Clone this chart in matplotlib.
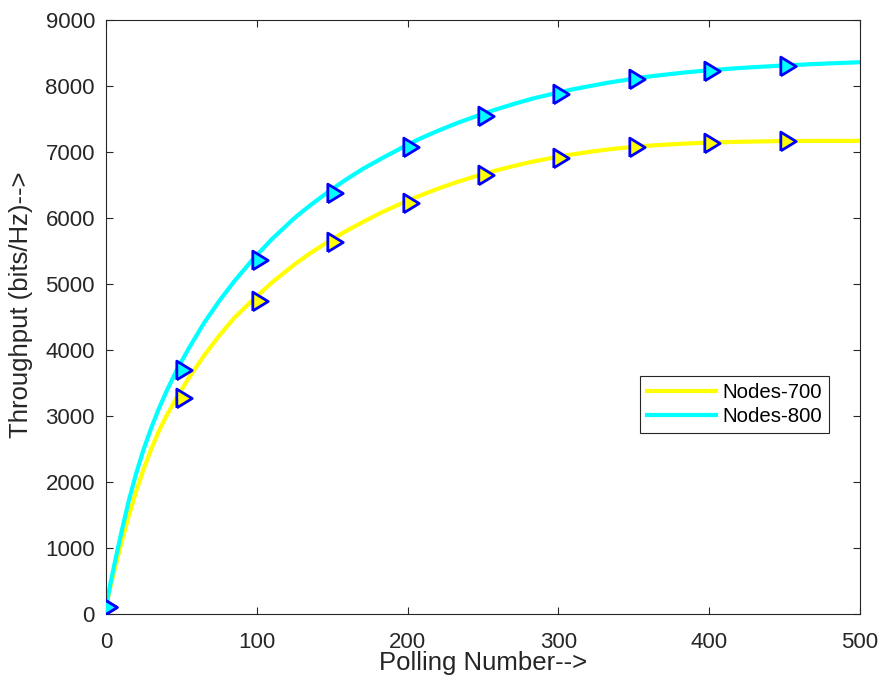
import matplotlib
matplotlib.use("Agg")
import matplotlib.pyplot as plt

plt.rcParams['font.family'] = ['Liberation Sans', 'DejaVu Sans']

# curve points
line_x = [0, 3, 6, 10, 15, 20, 25, 30, 35, 40, 47, 55, 65, 75, 85, 97, 110, 125,
          135, 147, 158, 170, 183, 197, 208, 220, 233, 247, 258, 270, 283, 297,
          308, 320, 333, 347, 358, 370, 383, 397, 420, 447, 470, 500]
nodes700 = [110, 420, 700, 1060, 1480, 1860, 2200, 2500, 2770, 3000, 3285, 3580,
            3915, 4215, 4485, 4752, 5022, 5297, 5460, 5638, 5787, 5935, 6088, 6232,
            6337, 6443, 6547, 6646, 6716, 6786, 6854, 6916, 6959, 7000, 7039, 7071,
            7092, 7110, 7126, 7140, 7154, 7165, 7168, 7168]
nodes800 = [110, 470, 800, 1220, 1710, 2130, 2500, 2820, 3110, 3370, 3700, 4030,
            4410, 4740, 5040, 5365, 5680, 6000, 6185, 6390, 6565, 6740, 6905, 7075,
            7200, 7320, 7440, 7555, 7640, 7725, 7810, 7885, 7943, 7995, 8050, 8100,
            8138, 8170, 8203, 8232, 8272, 8308, 8333, 8360]

# triangle markers (drawn a little right of the curve in the original)
mark_x = [2, 52, 102, 152, 202, 252, 302, 352, 402, 452]
mark700 = [103, 3277, 4747, 5636, 6232, 6647, 6914, 7071, 7141, 7167]
mark800 = [103, 3697, 5364, 6379, 7071, 7550, 7879, 8101, 8232, 8308]

labels = ["Nodes-700", "Nodes-800"]
x_ticks = [0, 100, 200, 300, 400, 500]
y_ticks = [0, 1000, 2000, 3000, 4000, 5000, 6000, 7000, 8000, 9000]

axis_gray = '#262626'
tri = [(-0.82, -1), (0.82, 0), (-0.82, 1), (-0.82, -1)]

fig = plt.figure(figsize=(8.8, 6.89), dpi=100)
ax = fig.add_axes([0.1205, 0.1089, 0.8568, 0.8621])

ax.plot(line_x, nodes700, color='yellow', linewidth=3, label=labels[0], zorder=2)
ax.plot(line_x, nodes800, color='cyan', linewidth=3, label=labels[1], zorder=2)
ax.plot(mark_x, mark700, linestyle='none', marker=tri, markersize=13.5,
        markerfacecolor='yellow', markeredgecolor='blue', markeredgewidth=2, zorder=3)
ax.plot(mark_x, mark800, linestyle='none', marker=tri, markersize=13.5,
        markerfacecolor='cyan', markeredgecolor='blue', markeredgewidth=2, zorder=3)

ax.set_xlim(0, 500)
ax.set_ylim(0, 9000)
ax.set_xticks(x_ticks)
ax.set_yticks(y_ticks)

for sp in ax.spines.values():
    sp.set_color(axis_gray)
    sp.set_linewidth(0.8)
ax.tick_params(direction='in', length=5, width=0.8, colors=axis_gray,
               labelsize=16, top=True, right=True)
ax.tick_params(axis='x', pad=13)
ax.tick_params(axis='y', pad=8)

ax.set_xlabel("Polling Number-->", fontsize=18.5, color=axis_gray)
ax.set_ylabel("Throughput (bits/Hz)-->", fontsize=18.5, color=axis_gray)
ax.xaxis.set_label_coords(0.5, -0.063)
ax.yaxis.set_label_coords(-0.097, 0.52)

leg = ax.legend(loc='lower right', bbox_to_anchor=(0.9585, 0.3042), borderaxespad=0,
                fontsize=14.7, fancybox=False, framealpha=1, edgecolor=axis_gray,
                handlelength=3.4, handletextpad=0.28, labelspacing=0.25, borderpad=0.35)
leg.get_frame().set_linewidth(0.8)

fig.savefig("out.png", dpi=100)
